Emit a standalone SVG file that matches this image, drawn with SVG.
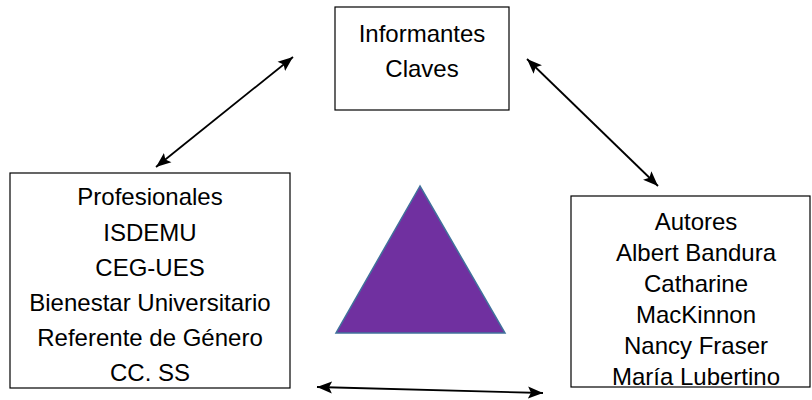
<svg xmlns="http://www.w3.org/2000/svg" width="812" height="400" viewBox="0 0 812 400">
<defs>
<style>
.box{fill:#fff;stroke:#000;stroke-width:1.2}
.t{font-family:"Liberation Sans",Arial,sans-serif;font-size:24px;fill:#000;text-anchor:middle}
.c{stroke:#000;stroke-width:1.8;fill:none;marker-start:url(#ah);marker-end:url(#ah)}
</style>
<marker id="ah" markerUnits="userSpaceOnUse" markerWidth="16" markerHeight="14" refX="15" refY="7" orient="auto-start-reverse" viewBox="0 0 16 14">
<path d="M0,1 L15,7 L0,13 L3,7 z" fill="#000"/>
</marker>
</defs>
<rect width="812" height="400" fill="#fff"/>
<g id="connectors">
<line class="c" x1="156" y1="167" x2="293" y2="57"/>
<line class="c" x1="527" y1="59" x2="658" y2="186"/>
<line class="c" x1="317" y1="387" x2="543" y2="393"/>
</g>
<g id="informantes">
<rect class="box" x="335" y="7" width="174" height="103"/>
<text class="t" x="422" y="42">Informantes</text>
<text class="t" x="422" y="77">Claves</text>
</g>
<g id="profesionales">
<rect class="box" x="10" y="173" width="280" height="215"/>
<text class="t" x="150" y="205">Profesionales</text>
<text class="t" x="150" y="240.5">ISDEMU</text>
<text class="t" x="150" y="276">CEG-UES</text>
<text class="t" x="150" y="311">Bienestar Universitario</text>
<text class="t" x="150" y="346">Referente de Género</text>
<text class="t" x="150" y="381">CC. SS</text>
</g>
<g id="autores">
<rect class="box" x="571" y="196" width="239" height="191"/>
<text class="t" x="696" y="229.5">Autores</text>
<text class="t" x="696" y="260.5">Albert Bandura</text>
<text class="t" x="696" y="291.5">Catharine</text>
<text class="t" x="696" y="322.5">MacKinnon</text>
<text class="t" x="696" y="353.5">Nancy Fraser</text>
<text class="t" x="696" y="384.5">María Lubertino</text>
</g>
<g id="triangulo">
<polygon points="420,186 336,333 505,333" fill="#7030A0" stroke="#41719C" stroke-width="1.5"/>
</g>
</svg>
